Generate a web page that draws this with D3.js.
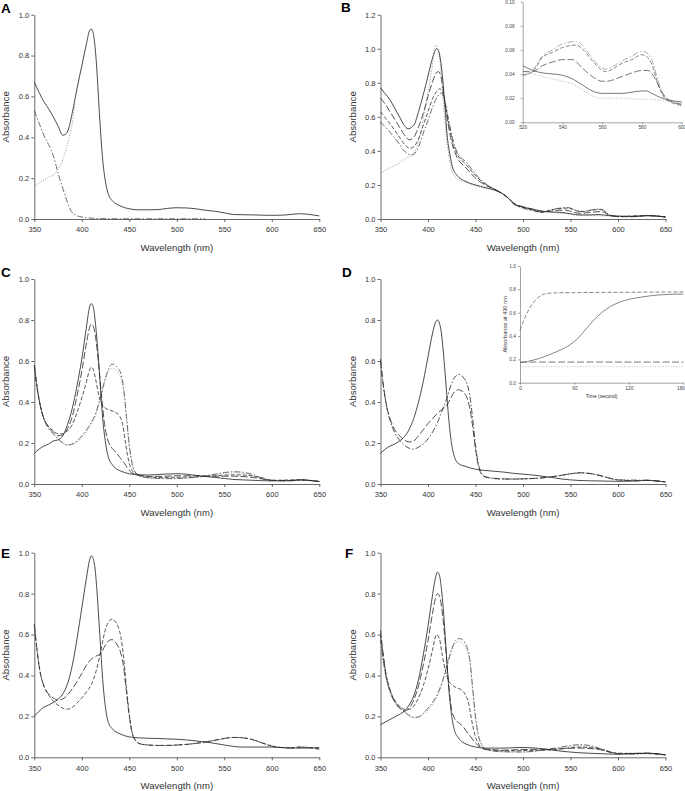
<!DOCTYPE html>
<html><head><meta charset="utf-8">
<script src="https://cdn.jsdelivr.net/npm/d3@7"></script>
<style>body{margin:0;background:#fff}svg{display:block}</style>
</head><body><svg id="c" width="685" height="791"></svg>
<script>
// ---------- tick labels ----------
const wlTicks = [350, 400, 450, 500, 550, 600, 650];
const absTicks10 = [0, 0.2, 0.4, 0.6, 0.8, 1.0];
const absTicks12 = [0, 0.2, 0.4, 0.6, 0.8, 1.0, 1.2];
const insetBxTicks = [520, 540, 560, 580, 600];
const insetByTicks = [0, 0.02, 0.04, 0.06, 0.08, 0.10];
const insetDxTicks = [0, 60, 120, 180];
const insetDyTicks = [0, 0.2, 0.4, 0.6, 0.8, 1.0];

// ---------- Panel A ----------
const A_solid = [[350,0.67],[355,0.62],[360,0.575],[365,0.54],[370,0.50],[375,0.455],[380,0.41],[383,0.415],[386,0.44],[390,0.52],[395,0.64],[400,0.75],[405,0.86],[408,0.92],[410,0.93],[412,0.91],[414,0.84],[416,0.72],[418,0.56],[420,0.41],[422,0.29],[425,0.18],[428,0.12],[432,0.09],[440,0.065],[450,0.05],[460,0.045],[470,0.045],[480,0.046],[490,0.052],[500,0.055],[510,0.054],[520,0.05],[530,0.043],[540,0.038],[550,0.03],[560,0.022],[580,0.02],[600,0.018],[615,0.02],[630,0.026],[640,0.022],[650,0.015]];
const A_dashed = [[350,0.53],[355,0.47],[360,0.41],[366,0.355],[370,0.31],[375,0.225],[380,0.15],[384,0.094],[389,0.037],[395,0.016],[400,0.01],[410,0.004],[420,0.002],[450,0.001],[500,0.001],[530,0.001]];
const A_dotted = [[350,0.16],[355,0.175],[360,0.19],[365,0.205],[370,0.215],[375,0.245],[380,0.29],[385,0.37],[390,0.47],[393,0.57]];

// ---------- Panel B ----------
const B_solid = [[350,0.77],[355,0.735],[360,0.70],[365,0.65],[370,0.60],[375,0.55],[379,0.53],[383,0.54],[386,0.56],[390,0.63],[395,0.73],[400,0.84],[405,0.95],[409,1.0],[411,0.99],[413,0.94],[415,0.85],[418,0.65],[420,0.50],[423,0.38],[426,0.30],[430,0.26],[440,0.22],[450,0.20],[460,0.185],[470,0.17],[478,0.15],[485,0.12],[490,0.09],[500,0.07],[510,0.058],[520,0.047],[530,0.041],[540,0.039],[550,0.031],[560,0.024],[570,0.024],[580,0.026],[590,0.020],[600,0.017],[620,0.015],[630,0.02],[640,0.018],[650,0.012]];
const B_dash1 = [[350,0.71],[355,0.675],[360,0.63],[365,0.585],[370,0.54],[375,0.495],[380,0.465],[385,0.48],[390,0.54],[395,0.62],[400,0.72],[405,0.81],[409,0.86],[411,0.865],[413,0.85],[416,0.76],[420,0.60],[425,0.45],[430,0.37],[440,0.30],[450,0.24],[460,0.20],[470,0.175],[478,0.15],[485,0.12],[490,0.095],[500,0.072],[510,0.058],[520,0.042],[530,0.047],[540,0.052],[545,0.052],[550,0.045],[560,0.034],[570,0.038],[580,0.043],[586,0.038],[590,0.025],[600,0.015],[615,0.013],[630,0.02],[650,0.012]];
const B_dash2 = [[350,0.63],[355,0.595],[360,0.56],[365,0.52],[370,0.48],[375,0.44],[381,0.415],[386,0.43],[390,0.47],[395,0.55],[400,0.63],[405,0.71],[410,0.755],[412,0.765],[415,0.75],[418,0.68],[422,0.56],[426,0.45],[430,0.39],[440,0.32],[450,0.255],[460,0.205],[470,0.175],[478,0.15],[485,0.12],[490,0.092],[500,0.068],[510,0.052],[520,0.039],[530,0.054],[540,0.062],[547,0.064],[550,0.061],[555,0.051],[560,0.043],[565,0.044],[570,0.049],[580,0.056],[585,0.048],[590,0.025],[600,0.014],[630,0.02],[650,0.012]];
const B_dash3 = [[350,0.57],[355,0.54],[360,0.51],[365,0.475],[370,0.44],[375,0.40],[383,0.376],[388,0.40],[392,0.45],[396,0.52],[400,0.58],[405,0.66],[410,0.72],[414,0.74],[417,0.71],[420,0.63],[424,0.52],[428,0.43],[432,0.38],[440,0.335],[450,0.265],[460,0.21],[470,0.175],[478,0.15],[485,0.12],[490,0.09],[500,0.066],[510,0.05],[520,0.039],[530,0.055],[540,0.065],[547,0.067],[550,0.064],[555,0.053],[560,0.045],[565,0.046],[570,0.051],[580,0.059],[585,0.052],[590,0.025],[600,0.014],[630,0.02],[650,0.012]];
const B_dotted = [[350,0.27],[360,0.30],[370,0.33],[378,0.36],[383,0.376],[388,0.42],[392,0.50],[396,0.62],[400,0.74],[404,0.88],[408,1.02],[410,1.01],[412,0.95],[414,0.85],[417,0.62],[420,0.45],[423,0.33],[426,0.27],[430,0.24],[440,0.215],[450,0.195],[460,0.18],[470,0.17],[478,0.15],[485,0.12],[490,0.09],[500,0.06],[510,0.05],[520,0.043],[530,0.038],[540,0.034],[550,0.027],[560,0.020],[570,0.020],[580,0.019],[590,0.018],[600,0.016],[620,0.015],[630,0.018],[650,0.01]];

// Inset B (520-600 nm)
const IB_dashdot = [[520,0.039],[525,0.043],[530,0.055],[535,0.060],[540,0.065],[547,0.067],[550,0.064],[555,0.053],[560,0.045],[562,0.044],[565,0.046],[570,0.051],[575,0.055],[580,0.059],[582,0.058],[585,0.052],[588,0.035],[592,0.020],[596,0.017],[600,0.014]];
const IB_dash = [[520,0.039],[525,0.042],[530,0.054],[535,0.058],[540,0.062],[547,0.064],[550,0.061],[555,0.051],[560,0.043],[562,0.042],[565,0.044],[570,0.049],[575,0.052],[580,0.056],[582,0.055],[585,0.048],[588,0.032],[592,0.019],[600,0.014]];
const IB_longdash = [[520,0.042],[525,0.042],[530,0.047],[535,0.050],[540,0.052],[545,0.052],[550,0.045],[555,0.038],[560,0.034],[562,0.034],[570,0.038],[575,0.041],[580,0.043],[583,0.043],[586,0.038],[590,0.025],[594,0.018],[600,0.015]];
const IB_solid = [[520,0.047],[525,0.043],[530,0.041],[540,0.039],[545,0.036],[550,0.031],[555,0.026],[560,0.024],[565,0.024],[570,0.024],[575,0.025],[580,0.026],[582,0.026],[585,0.024],[590,0.020],[595,0.018],[600,0.017]];
const IB_dotted = [[520,0.043],[530,0.038],[540,0.034],[545,0.032],[550,0.027],[555,0.022],[560,0.020],[570,0.020],[580,0.019],[585,0.019],[590,0.018],[595,0.017],[600,0.016]];

// ---------- Panel C ----------
const C_solid = [[350,0.15],[355,0.17],[360,0.185],[365,0.195],[370,0.21],[375,0.215],[380,0.235],[385,0.29],[390,0.37],[395,0.48],[400,0.61],[405,0.77],[408,0.86],[410,0.88],[412,0.865],[414,0.80],[416,0.70],[418,0.58],[420,0.44],[422,0.32],[425,0.20],[428,0.13],[432,0.095],[436,0.075],[440,0.065],[450,0.05],[460,0.045],[470,0.044],[480,0.046],[490,0.049],[500,0.05],[510,0.048],[520,0.042],[530,0.037],[540,0.032],[550,0.027],[560,0.022],[570,0.02],[580,0.018],[600,0.015],[615,0.016],[630,0.02],[640,0.017],[650,0.012]];
const C_long = [[350,0.58],[353,0.47],[356,0.39],[360,0.32],[365,0.28],[370,0.255],[375,0.235],[380,0.24],[385,0.27],[390,0.33],[395,0.43],[400,0.55],[405,0.69],[408,0.76],[410,0.78],[412,0.77],[415,0.70],[418,0.57],[421,0.42],[424,0.29],[427,0.22],[431,0.18],[436,0.155],[440,0.13],[445,0.10],[450,0.065],[455,0.05],[460,0.042],[470,0.037],[480,0.037],[500,0.04],[520,0.04],[540,0.038],[560,0.038],[580,0.032],[600,0.018],[620,0.016],[630,0.02],[650,0.012]];
const C_med = [[350,0.58],[353,0.47],[356,0.39],[360,0.32],[365,0.28],[370,0.26],[375,0.245],[380,0.245],[385,0.26],[390,0.29],[395,0.35],[400,0.42],[405,0.50],[408,0.555],[410,0.57],[412,0.56],[415,0.50],[418,0.43],[421,0.39],[425,0.37],[430,0.36],[435,0.35],[440,0.33],[443,0.29],[446,0.20],[450,0.10],[454,0.06],[460,0.045],[470,0.035],[480,0.032],[500,0.033],[520,0.035],[540,0.04],[560,0.045],[575,0.042],[590,0.03],[600,0.018],[630,0.02],[650,0.012]];
const C_dashdot = [[350,0.58],[353,0.47],[356,0.39],[360,0.32],[365,0.27],[370,0.245],[375,0.22],[380,0.20],[385,0.19],[390,0.195],[395,0.21],[400,0.235],[405,0.265],[410,0.30],[415,0.35],[420,0.43],[425,0.52],[429,0.57],[432,0.585],[435,0.58],[438,0.565],[441,0.54],[444,0.47],[447,0.33],[450,0.19],[453,0.10],[456,0.06],[460,0.04],[470,0.03],[480,0.027],[490,0.026],[500,0.027],[520,0.033],[540,0.048],[550,0.056],[560,0.06],[570,0.057],[580,0.046],[590,0.028],[600,0.018],[620,0.015],[630,0.02],[650,0.012]];
const C_dotted = [[350,0.57],[353,0.46],[356,0.385],[360,0.32],[365,0.275],[370,0.245],[375,0.22],[380,0.20],[385,0.19],[390,0.192],[395,0.205],[400,0.225],[405,0.255],[410,0.29],[415,0.34],[420,0.42],[425,0.51],[429,0.555],[432,0.565],[435,0.56],[438,0.545],[441,0.52],[444,0.455],[447,0.32],[450,0.18],[453,0.095],[456,0.058],[460,0.04],[470,0.03],[480,0.027],[500,0.027],[520,0.032],[540,0.045],[550,0.052],[560,0.055],[570,0.052],[580,0.042],[590,0.026],[600,0.017],[630,0.02],[650,0.012]];

// ---------- Panel D ----------
const D_solid = [[350,0.15],[355,0.17],[360,0.185],[365,0.195],[370,0.21],[375,0.23],[380,0.265],[385,0.32],[390,0.40],[395,0.50],[400,0.62],[405,0.74],[408,0.79],[410,0.80],[412,0.785],[414,0.74],[416,0.65],[418,0.54],[420,0.42],[422,0.31],[425,0.19],[428,0.13],[432,0.10],[440,0.085],[450,0.072],[460,0.066],[470,0.062],[480,0.058],[490,0.052],[500,0.048],[510,0.044],[520,0.038],[530,0.032],[540,0.025],[550,0.02],[560,0.017],[580,0.015],[600,0.013],[620,0.015],[630,0.018],[650,0.01]];
const D_long = [[350,0.60],[353,0.48],[356,0.39],[360,0.32],[365,0.265],[370,0.235],[375,0.215],[380,0.205],[385,0.21],[390,0.235],[395,0.265],[400,0.295],[405,0.32],[410,0.345],[415,0.365],[420,0.385],[424,0.42],[428,0.45],[432,0.46],[435,0.455],[438,0.445],[441,0.42],[444,0.37],[447,0.28],[450,0.17],[453,0.09],[456,0.05],[460,0.035],[470,0.028],[480,0.025],[490,0.024],[500,0.025],[520,0.03],[540,0.042],[550,0.05],[560,0.055],[570,0.052],[580,0.043],[590,0.03],[600,0.02],[620,0.016],[630,0.018],[650,0.01]];
const D_dashdot = [[350,0.61],[353,0.48],[356,0.39],[360,0.31],[365,0.25],[370,0.215],[375,0.19],[380,0.175],[385,0.17],[390,0.18],[395,0.195],[400,0.22],[405,0.255],[410,0.30],[415,0.36],[420,0.42],[424,0.48],[428,0.52],[432,0.535],[435,0.53],[438,0.515],[441,0.49],[444,0.43],[447,0.32],[450,0.19],[453,0.10],[456,0.055],[460,0.035],[470,0.026],[480,0.024],[500,0.025],[520,0.03],[540,0.042],[550,0.05],[560,0.054],[570,0.051],[580,0.042],[590,0.03],[600,0.02],[630,0.018],[650,0.01]];

// Inset D (time course at 430 nm)
const ID_fast = [[0,0.45],[5,0.55],[10,0.63],[15,0.69],[20,0.73],[25,0.755],[30,0.765],[40,0.77],[60,0.772],[120,0.775],[180,0.778]];
const ID_slow = [[0,0.17],[10,0.185],[20,0.205],[30,0.232],[40,0.265],[50,0.30],[55,0.325],[60,0.355],[65,0.39],[70,0.435],[75,0.48],[80,0.525],[85,0.565],[90,0.60],[95,0.63],[100,0.655],[110,0.69],[120,0.714],[135,0.735],[150,0.75],[165,0.757],[180,0.76]];
const ID_flat1 = [[0,0.177],[60,0.177],[120,0.177],[180,0.177]];
const ID_flat2 = [[0,0.137],[60,0.137],[120,0.137],[180,0.137]];

// ---------- Panel E ----------
const E_solid = [[350,0.20],[355,0.225],[360,0.245],[365,0.255],[370,0.268],[374,0.28],[380,0.31],[385,0.36],[390,0.45],[395,0.58],[400,0.73],[405,0.88],[408,0.96],[410,0.985],[412,0.97],[414,0.92],[416,0.81],[418,0.67],[420,0.52],[422,0.38],[425,0.24],[428,0.17],[432,0.14],[440,0.115],[450,0.10],[460,0.095],[470,0.093],[480,0.092],[490,0.09],[500,0.088],[510,0.085],[520,0.08],[530,0.075],[540,0.068],[550,0.06],[560,0.053],[570,0.05],[580,0.05],[600,0.05],[620,0.045],[635,0.045],[650,0.048]];
const E_long = [[350,0.65],[353,0.52],[356,0.42],[360,0.35],[365,0.31],[370,0.29],[375,0.28],[380,0.285],[385,0.305],[390,0.335],[395,0.37],[400,0.41],[405,0.45],[410,0.48],[415,0.495],[418,0.50],[421,0.515],[425,0.55],[429,0.572],[432,0.575],[435,0.565],[438,0.545],[441,0.51],[444,0.44],[447,0.32],[450,0.20],[453,0.12],[457,0.08],[462,0.065],[470,0.06],[480,0.058],[490,0.058],[500,0.06],[510,0.063],[520,0.068],[530,0.075],[540,0.083],[550,0.092],[560,0.097],[570,0.095],[580,0.086],[590,0.07],[600,0.055],[610,0.048],[620,0.046],[630,0.05],[640,0.047],[650,0.04]];
const E_med = [[350,0.65],[353,0.52],[356,0.42],[360,0.35],[365,0.305],[370,0.275],[375,0.255],[380,0.24],[385,0.235],[390,0.245],[395,0.265],[400,0.29],[405,0.32],[410,0.355],[415,0.42],[420,0.52],[424,0.61],[428,0.66],[432,0.675],[435,0.665],[438,0.64],[441,0.59],[444,0.49],[447,0.34],[450,0.21],[453,0.12],[457,0.08],[462,0.065],[470,0.06],[480,0.058],[490,0.058],[500,0.06],[510,0.063],[520,0.068],[530,0.075],[540,0.083],[550,0.092],[560,0.097],[570,0.095],[580,0.086],[590,0.07],[600,0.055],[610,0.048],[620,0.046],[630,0.05],[640,0.047],[650,0.04]];

// ---------- Panel F ----------
const F_solid = [[350,0.16],[355,0.172],[360,0.185],[365,0.197],[370,0.21],[375,0.225],[380,0.255],[385,0.30],[390,0.38],[395,0.50],[400,0.64],[405,0.80],[408,0.88],[410,0.905],[412,0.89],[414,0.83],[416,0.73],[418,0.60],[420,0.46],[422,0.33],[425,0.20],[428,0.13],[432,0.095],[436,0.075],[440,0.065],[450,0.05],[460,0.045],[480,0.045],[490,0.047],[500,0.048],[520,0.042],[540,0.03],[560,0.022],[580,0.018],[600,0.015],[630,0.02],[650,0.012]];
const F_long = [[350,0.62],[353,0.50],[356,0.40],[360,0.33],[365,0.27],[370,0.24],[375,0.225],[380,0.24],[385,0.28],[390,0.35],[395,0.45],[400,0.57],[405,0.71],[408,0.78],[410,0.80],[412,0.79],[415,0.71],[418,0.57],[421,0.40],[424,0.26],[428,0.19],[432,0.17],[437,0.15],[440,0.13],[445,0.10],[450,0.07],[455,0.05],[460,0.04],[480,0.035],[500,0.038],[530,0.04],[560,0.045],[580,0.038],[600,0.018],[630,0.02],[650,0.012]];
const F_med = [[350,0.60],[353,0.49],[356,0.40],[360,0.33],[365,0.28],[370,0.25],[375,0.235],[380,0.235],[385,0.25],[390,0.29],[395,0.35],[400,0.43],[405,0.53],[409,0.60],[412,0.58],[415,0.50],[418,0.43],[421,0.38],[425,0.355],[430,0.34],[435,0.33],[440,0.30],[443,0.26],[446,0.18],[450,0.10],[455,0.055],[460,0.04],[480,0.032],[500,0.033],[530,0.036],[560,0.05],[580,0.042],[600,0.02],[630,0.018],[650,0.012]];
const F_dashdot = [[350,0.58],[353,0.47],[356,0.39],[360,0.32],[365,0.27],[370,0.245],[375,0.225],[380,0.205],[385,0.195],[390,0.198],[395,0.215],[400,0.24],[405,0.27],[410,0.31],[415,0.37],[420,0.45],[425,0.53],[429,0.57],[432,0.58],[435,0.578],[438,0.565],[441,0.54],[444,0.48],[447,0.34],[450,0.20],[453,0.11],[457,0.06],[460,0.04],[470,0.03],[480,0.027],[500,0.026],[520,0.035],[540,0.05],[550,0.058],[560,0.062],[570,0.058],[580,0.045],[590,0.028],[600,0.018],[620,0.015],[630,0.02],[650,0.012]];
const F_dotted = [[350,0.57],[353,0.46],[356,0.385],[360,0.32],[365,0.272],[370,0.245],[375,0.222],[380,0.203],[385,0.193],[390,0.195],[395,0.21],[400,0.232],[405,0.262],[410,0.30],[415,0.36],[420,0.44],[425,0.52],[429,0.56],[432,0.565],[435,0.562],[438,0.55],[441,0.525],[444,0.465],[447,0.33],[450,0.19],[453,0.10],[457,0.058],[460,0.04],[470,0.03],[480,0.027],[500,0.026],[520,0.033],[540,0.046],[550,0.053],[560,0.056],[570,0.053],[580,0.042],[590,0.027],[600,0.017],[630,0.02],[650,0.012]];

// ---------- styles ----------
const FONT = '"Liberation Sans", Arial, Helvetica, sans-serif';
const STY = {
  solid:   {dash: null,          color: "#2a2a2a", w: 0.85},
  long:    {dash: "7,2.5",       color: "#333", w: 0.85},
  med:     {dash: "4,2",         color: "#3a3a3a", w: 0.85},
  dashdot: {dash: "6,2,1.5,2",   color: "#555", w: 0.85},
  dot:     {dash: "1,1.6",       color: "#888", w: 0.85}
};

const svg = d3.select("#c");
svg.append("rect").attr("width", 685).attr("height", 791).attr("fill", "#fff");

function styleAxis(g, size) {
  g.attr("font-family", FONT).attr("font-size", size);
  g.selectAll("path.domain").attr("stroke", "#444").attr("stroke-width", 0.8);
  g.selectAll(".tick line").attr("stroke", "#444").attr("stroke-width", 0.8);
  g.selectAll(".tick text").attr("fill", "#333");
}

function drawLines(x, y, series, clipId) {
  const line = d3.line().x(d => x(d[0])).y(d => y(d[1])).curve(d3.curveMonotoneX);
  const g = svg.append("g");
  if (clipId) g.attr("clip-path", `url(#${clipId})`);
  series.forEach(s => {
    const st = STY[s.style];
    g.append("path").datum(s.data)
      .attr("d", line).attr("fill", "none")
      .attr("stroke", s.color || st.color).attr("stroke-width", s.w || st.w)
      .attr("stroke-dasharray", st.dash);
  });
}

function drawPanel(p) {
  const x = d3.scaleLinear().domain([350, 650]).range([p.left, p.right]);
  const y = d3.scaleLinear().domain([0, p.yMax]).range([p.bottom, p.top]);
  drawLines(x, y, p.series);
  const gx = svg.append("g").attr("transform", `translate(0,${p.bottom})`)
    .call(d3.axisBottom(x).tickValues(wlTicks).tickSize(3).tickSizeOuter(0).tickPadding(5));
  styleAxis(gx, 7.5);
  const gy = svg.append("g").attr("transform", `translate(${p.left},0)`)
    .call(d3.axisLeft(y).tickValues(p.yTicks).tickFormat(d3.format(".1f")).tickSize(3).tickSizeOuter(0).tickPadding(2));
  styleAxis(gy, 7.5);
  svg.append("text").attr("x", (p.left + p.right) / 2).attr("y", p.bottom + 31.5)
    .attr("text-anchor", "middle").attr("font-family", FONT).attr("font-size", 9.6).attr("fill", "#333")
    .text("Wavelength (nm)");
  svg.append("text").attr("transform", `translate(${p.left - 25},${(p.top + p.bottom) / 2}) rotate(-90)`)
    .attr("text-anchor", "middle").attr("font-family", FONT).attr("font-size", 9.6).attr("fill", "#333")
    .text("Absorbance");
  svg.append("text").attr("x", p.lx).attr("y", p.ly)
    .attr("font-family", FONT).attr("font-size", 13.5).attr("font-weight", "bold").attr("fill", "#000")
    .text(p.label);
}

const panels = [
  {label: "A", lx: 1, ly: 12.5, left: 34.3, right: 319.3, top: 14.7, bottom: 219, yMax: 1.0, yTicks: absTicks10,
   series: [{data: A_dotted, style: "dot"}, {data: A_dashed, style: "dashdot"}, {data: A_solid, style: "solid"}]},
  {label: "B", lx: 341, ly: 11.5, left: 380.5, right: 665.5, top: 14.7, bottom: 219, yMax: 1.2, yTicks: absTicks12,
   series: [{data: B_dotted, style: "dot"}, {data: B_dash3, style: "dashdot"}, {data: B_dash2, style: "med"}, {data: B_dash1, style: "long"}, {data: B_solid, style: "solid"}]},
  {label: "C", lx: 1, ly: 276.5, left: 34.3, right: 319.3, top: 279, bottom: 484, yMax: 1.0, yTicks: absTicks10,
   series: [{data: C_dotted, style: "dot"}, {data: C_dashdot, style: "dashdot"}, {data: C_med, style: "med"}, {data: C_long, style: "long"}, {data: C_solid, style: "solid"}]},
  {label: "D", lx: 342, ly: 276.5, left: 380.5, right: 665.5, top: 279, bottom: 484, yMax: 1.0, yTicks: absTicks10,
   series: [{data: D_dashdot, style: "dashdot", color: "#333"}, {data: D_long, style: "long"}, {data: D_solid, style: "solid"}]},
  {label: "E", lx: 1, ly: 557.5, left: 34.3, right: 319.3, top: 552.7, bottom: 757.3, yMax: 1.0, yTicks: absTicks10,
   series: [{data: E_med, style: "med"}, {data: E_long, style: "long"}, {data: E_solid, style: "solid"}]},
  {label: "F", lx: 345, ly: 557.5, left: 380.5, right: 665.5, top: 552.7, bottom: 757.3, yMax: 1.0, yTicks: absTicks10,
   series: [{data: F_dotted, style: "dot"}, {data: F_dashdot, style: "dashdot"}, {data: F_med, style: "med"}, {data: F_long, style: "long"}, {data: F_solid, style: "solid"}]}
];
panels.forEach(drawPanel);

// ---------- Inset B ----------
(function () {
  const L = 522.7, R = 681.7, T = 1.7, B = 122.3;
  const x = d3.scaleLinear().domain([520, 600]).range([L, R]);
  const y = d3.scaleLinear().domain([0, 0.10]).range([B, T]);
  svg.append("clipPath").attr("id", "clipB").append("rect").attr("x", L).attr("y", T - 2).attr("width", R - L + 1).attr("height", B - T + 2);
  drawLines(x, y, [
    {data: IB_dotted, style: "dot", color: "#aaa", w: 0.8},
    {data: IB_dashdot, style: "dashdot", color: "#999", w: 0.8},
    {data: IB_dash, style: "med", color: "#666", w: 0.8},
    {data: IB_longdash, style: "long", color: "#555", w: 0.8},
    {data: IB_solid, style: "solid", color: "#555", w: 0.8}
  ], "clipB");
  const gx = svg.append("g").attr("transform", `translate(0,${B})`)
    .call(d3.axisBottom(x).tickValues(insetBxTicks).tickSize(2).tickSizeOuter(0).tickPadding(1.5));
  styleAxis(gx, 4.8);
  const gy = svg.append("g").attr("transform", `translate(${L},0)`)
    .call(d3.axisLeft(y).tickValues(insetByTicks).tickFormat(d3.format(".2f")).tickSize(2).tickSizeOuter(0).tickPadding(6));
  styleAxis(gy, 4.8);
  [gx, gy].forEach(g => {
    g.selectAll("path.domain,.tick line").attr("stroke", "#666").attr("stroke-width", 0.6);
    g.selectAll(".tick text").attr("fill", "#444");
  });
})();

// ---------- Inset D ----------
(function () {
  const L = 520, R = 683.3, T = 266, B = 382.7;
  const x = d3.scaleLinear().domain([0, 180]).range([L, R]);
  const y = d3.scaleLinear().domain([0, 1.0]).range([B, T]);
  drawLines(x, y, [
    {data: ID_flat2, style: "dot", color: "#aaa", w: 0.8},
    {data: ID_flat1, style: "long", color: "#555", w: 0.8},
    {data: ID_slow, style: "solid", color: "#666", w: 0.8},
    {data: ID_fast, style: "med", color: "#666", w: 0.8}
  ]);
  const gx = svg.append("g").attr("transform", `translate(0,${B})`)
    .call(d3.axisBottom(x).tickValues(insetDxTicks).tickSize(2).tickSizeOuter(0).tickPadding(1.5));
  styleAxis(gx, 4.8);
  const gy = svg.append("g").attr("transform", `translate(${L},0)`)
    .call(d3.axisLeft(y).tickValues(insetDyTicks).tickFormat(d3.format(".1f")).tickSize(2).tickSizeOuter(0).tickPadding(2));
  styleAxis(gy, 4.8);
  [gx, gy].forEach(g => {
    g.selectAll("path.domain,.tick line").attr("stroke", "#666").attr("stroke-width", 0.6);
    g.selectAll(".tick text").attr("fill", "#444");
  });
  // keep the last time label inside the page
  gx.selectAll(".tick text").filter(d => d === 180).attr("text-anchor", "end").attr("dx", "1.2");
  svg.append("text").attr("x", (L + R) / 2).attr("y", B + 15.5).attr("text-anchor", "middle")
    .attr("font-family", FONT).attr("font-size", 5).attr("fill", "#333").text("Time (second)");
  svg.append("text").attr("transform", `translate(506.5,${(T + B) / 2}) rotate(-90)`).attr("text-anchor", "middle")
    .attr("font-family", FONT).attr("font-size", 5.6).attr("fill", "#333").text("Absorbance at 430 nm");
})();
</script></body></html>
